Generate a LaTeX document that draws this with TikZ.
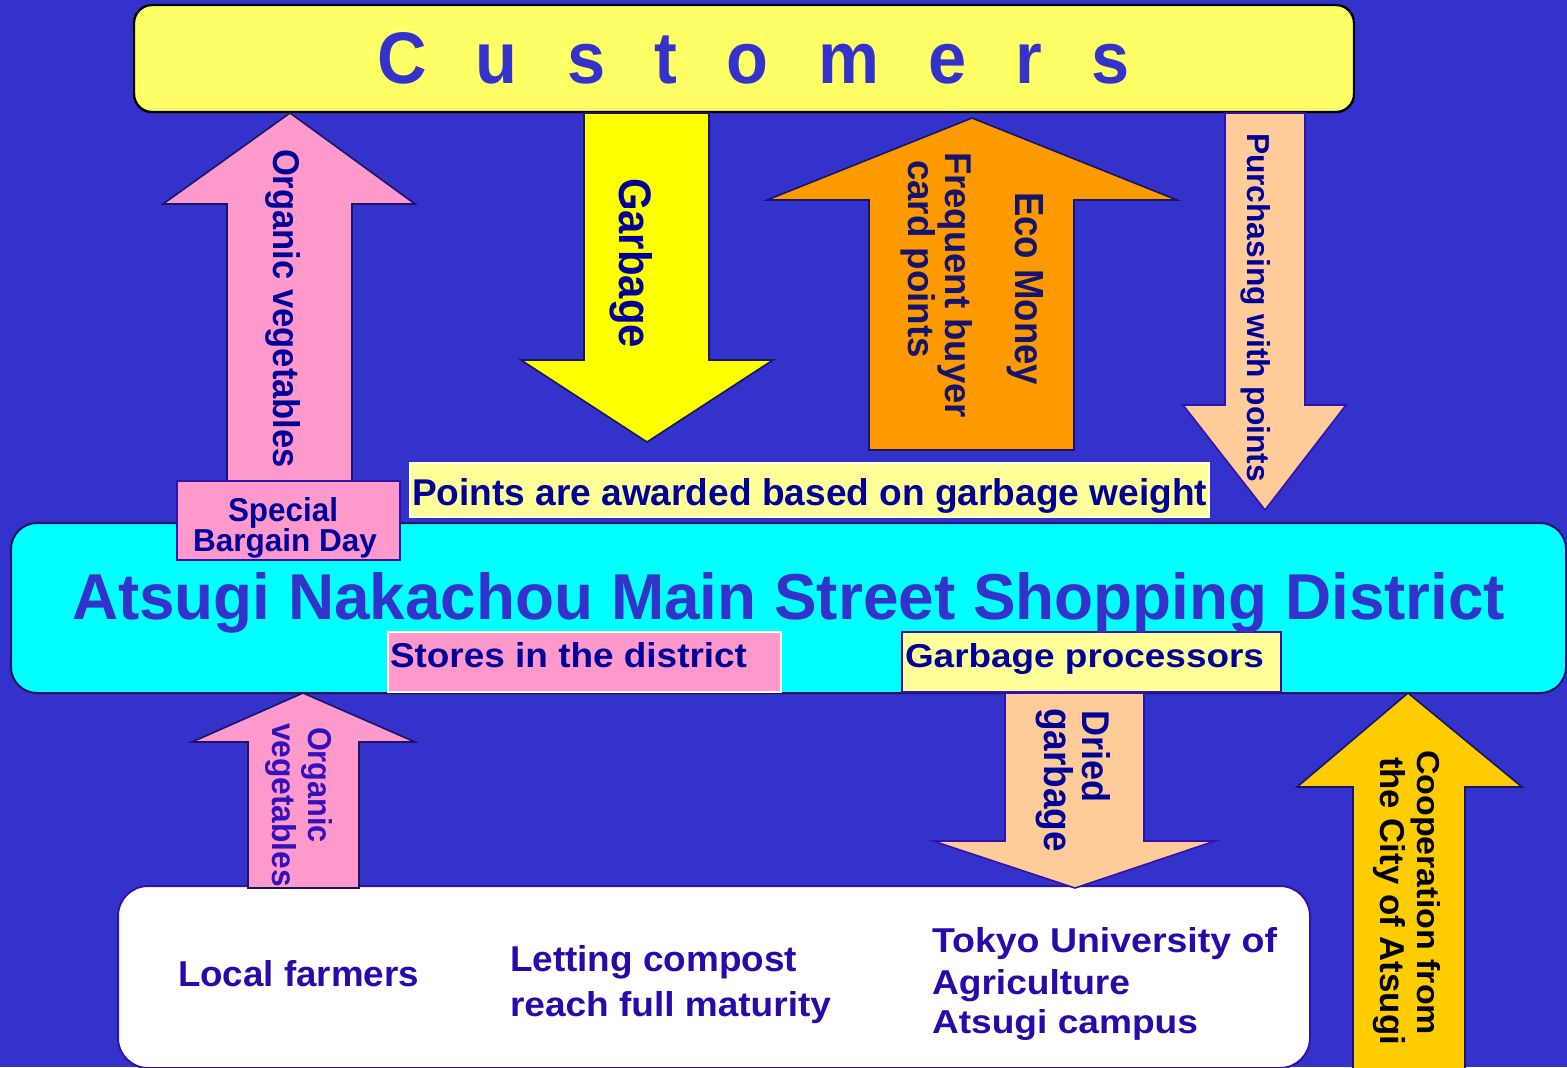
\documentclass[tikz,border=0pt]{standalone}
\usepackage{fontspec}
\setmainfont{Liberation Sans}
\usepackage{graphicx}
\definecolor{bgblue}{RGB}{51,51,204}
\definecolor{custfill}{RGB}{255,255,102}
\definecolor{cyanfill}{RGB}{0,255,255}
\definecolor{pinkfill}{RGB}{255,153,204}
\definecolor{yelfill}{RGB}{255,255,0}
\definecolor{orfill}{RGB}{255,153,0}
\definecolor{peachfill}{RGB}{255,204,153}
\definecolor{goldfill}{RGB}{255,204,0}
\definecolor{lyfill}{RGB}{255,255,153}
\definecolor{navy}{RGB}{0,0,153}
\definecolor{darknavy}{RGB}{20,20,110}
\definecolor{arrline}{RGB}{25,20,100}
\definecolor{purpleblue}{RGB}{40,10,170}
\definecolor{pinktext}{RGB}{51,17,187}
\definecolor{boxline}{RGB}{51,17,170}
\newcommand\fb[3]{\resizebox{\dimexpr #1pt/2\relax}{\dimexpr #2pt/2\relax}{#3}}
\newcommand\blockarrow[9]{%
  \draw[#1] (#2,#3) -- (#5,#6) -- (#8,#6) -- (#8,#9) -- (#7,#9) -- (#7,#6) -- (#4,#6) -- cycle;}
\tikzset{
  arr/.style={draw=arrline, line width=0.8pt, line join=miter},
  txt/.style={inner sep=0pt, outer sep=0pt, anchor=base west, font=\bfseries},
  rtxt/.style={txt, rotate=-90},
}
\begin{document}
\begin{tikzpicture}[x=0.5pt,y=-0.5pt]
\useasboundingbox (0,0) rectangle (1567,1067);
\clip (0,0) rectangle (1567,1067);
\fill[bgblue] (0,0) rectangle (1567,1067);

% main boxes
\draw[fill=custfill, draw=black, line width=1.2pt, rounded corners=9pt] (134,5) rectangle (1354,112);
\draw[fill=cyanfill, draw=arrline, line width=1pt, rounded corners=13pt] (11,523) rectangle (1566,693);
\draw[fill=white, draw=boxline, line width=1pt, rounded corners=15pt] (118,886) rectangle (1310,1068);

% block arrows
\blockarrow{arr, fill=pinkfill}{290}{113}{163}{415}{204}{227}{352}{484}
\blockarrow{arr, fill=yelfill}{647}{442}{521}{773}{360}{584}{709}{113}
\blockarrow{arr, fill=orfill}{972}{118}{767}{1177}{200}{869}{1074}{450}
\blockarrow{arr, fill=peachfill, draw=boxline}{1265}{510}{1183}{1346}{405}{1225}{1305}{113}
\blockarrow{arr, fill=pinkfill}{303}{693}{192}{415}{742}{248}{359}{888}
\blockarrow{arr, fill=peachfill, draw=boxline}{1075}{888}{933}{1215}{841}{1005}{1144}{693}
\blockarrow{arr, fill=goldfill}{1408}{693}{1297}{1522}{787}{1353}{1465}{1120}

% label boxes
\draw[fill=pinkfill, draw=boxline, line width=1pt] (177,481) rectangle (400,560);
\draw[fill=lyfill, draw=white, line width=0.6pt] (410,463) rectangle (1209,517);
\draw[fill=pinkfill, draw=white, line width=0.6pt] (388,632) rectangle (781,692);
\draw[fill=lyfill, draw=boxline, line width=0.8pt] (902,632) rectangle (1281,692);

% horizontal texts
\node[txt, text=bgblue] (cust) at (377,83) {\fb{753}{51}{C\hspace{0.72em}u\hspace{0.72em}s\hspace{0.72em}t\hspace{0.72em}o\hspace{0.72em}m\hspace{0.72em}e\hspace{0.72em}r\hspace{0.72em}s}};
\node[txt, text=bgblue] (title) at (72,619) {\fb{1433}{47}{Atsugi Nakachou Main Street Shopping District}};
\node[txt, text=navy] (special) at (228,521) {\fb{110}{24}{Special}};
\node[txt, text=navy] (bargain) at (193,551) {\fb{184}{23}{Bargain Day}};
\node[txt, text=navy] (points) at (412,505) {\fb{795}{27}{Points are awarded based on garbage weight}};
\node[txt, text=navy] (stores) at (390,667) {\fb{357}{25}{Stores in the district}};
\node[txt, text=navy] (proc) at (905,667) {\fb{359}{24}{Garbage processors}};
\node[txt, text=purpleblue] (farmers) at (178,986) {\fb{241}{26}{Local farmers}};
\node[txt, text=purpleblue] (letting) at (510,971) {\fb{287}{26}{Letting compost}};
\node[txt, text=purpleblue] (reach) at (510,1016) {\fb{321}{25}{reach full maturity}};
\node[txt, text=purpleblue] (tokyo) at (932,952) {\fb{345}{25}{Tokyo University of}};
\node[txt, text=purpleblue] (agri) at (932,994) {\fb{198}{25}{Agriculture}};
\node[txt, text=purpleblue] (campus) at (932,1033) {\fb{266}{24}{Atsugi campus}};

% rotated texts
\node[rtxt, text=navy] (orgveg) at (273,149) {\fb{319}{27}{Organic vegetables}};
\node[rtxt, text=navy] (garb) at (619,178) {\fb{170}{33}{Garbage}};
\node[rtxt, text=darknavy] (eco) at (1015,192) {\fb{193}{28}{Eco Money}};
\node[rtxt, text=darknavy] (freq) at (945,152) {\fb{266}{27}{Frequent buyer}};
\node[rtxt, text=darknavy] (card) at (908,160) {\fb{198}{27}{card points}};
\node[rtxt, text=navy] (purch) at (1247,133) {\fb{349}{23}{Purchasing with points}};
\node[rtxt, text=pinktext] (org2) at (308,727) {\fb{116}{24}{Organic}};
\node[rtxt, text=pinktext] (veg2) at (272,723) {\fb{164}{24}{vegetables}};
\node[rtxt, text=navy] (dried) at (1082,710) {\fb{92}{28}{Dried}};
\node[rtxt, text=navy] (garb2) at (1044,708) {\fb{144}{29}{garbage}};
\node[rtxt, text=black] (coop) at (1417,750) {\fb{285}{23}{Cooperation from}};
\node[rtxt, text=black] (city) at (1380,757) {\fb{288}{25}{the City of Atsugi}};
\end{tikzpicture}
\end{document}
